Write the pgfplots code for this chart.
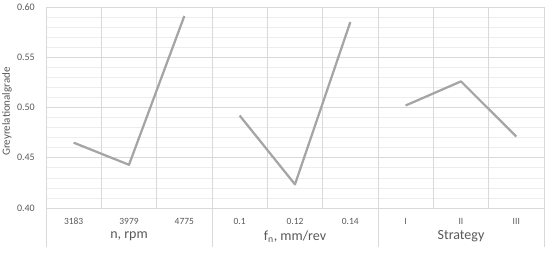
\documentclass[border=0pt]{standalone}
\usepackage{fontspec}
\setmainfont{Carlito}
\usepackage{pgfplots}
\pgfplotsset{compat=1.18}
\definecolor{gridc}{HTML}{D9D9D9}
\definecolor{minorgridc}{HTML}{EDEDED}
\definecolor{txt}{HTML}{595959}
\definecolor{ln}{HTML}{A5A5A5}
\begin{document}
\begin{tikzpicture}
\useasboundingbox (-46pt,-51pt) rectangle (504pt,208pt);
\begin{axis}[
  at={(0,0)}, anchor=south west,
  scale only axis, width=498pt, height=201pt,
  xmin=0.5, xmax=9.5, ymin=0.4, ymax=0.6,
  clip=false,
  axis line style={draw=none},
  major tick length=0pt, minor tick length=0pt,
  xtick={1,...,9},
  xticklabels={3183,3979,4775,0.1,0.12,0.14,I,II,III},
  extra x ticks={0.5,1.5,2.5,3.5,4.5,5.5,6.5,7.5,8.5,9.5},
  extra x tick labels={},
  extra x tick style={grid=major, major grid style={gridc, line width=0.75pt}},
  ytick={0.4,0.45,0.5,0.55,0.6},
  minor y tick num=4,
  ymajorgrids, yminorgrids,
  major grid style={gridc, line width=0.75pt},
  minor grid style={minorgridc, line width=0.6pt},
  /pgf/number format/assume math mode=true,
  yticklabel={\pgfmathprintnumber[fixed,fixed zerofill,precision=2]{\tick}},
  yticklabel style={anchor=east, inner sep=0pt, xshift=-11pt, text=txt, font=\fontsize{10}{12}\selectfont},
  xticklabel style={anchor=center, inner sep=0pt, yshift=-13pt, text=txt, font=\fontsize{9.5}{11}\selectfont},
  ylabel={Greyrelationalgrade},
  ylabel style={at={(axis description cs:-0.0783,0.48)}, anchor=center, text=txt, font=\fontsize{11}{13}\selectfont},
]
\addplot[ln, line width=2.25pt, line join=round] coordinates {(1,0.465) (2,0.443) (3,0.591)};
\addplot[ln, line width=2.25pt, line join=round] coordinates {(4,0.492) (5,0.4235) (6,0.585)};
\addplot[ln, line width=2.25pt, line join=round] coordinates {(7,0.502) (8,0.526) (9,0.471)};
\foreach \s in {0.5,3.5,6.5,9.5} {
  \edef\temp{\noexpand\draw[gridc, line width=0.75pt] (axis cs:\s,0.4) -- ++(0pt,-39pt);}
  \temp
}
\node[text=txt, font=\fontsize{14}{16}\selectfont] at (axis cs:2,0.4) [yshift=-28.5pt] {n, rpm};
\node[text=txt, font=\fontsize{14}{16}\selectfont] at (axis cs:5,0.4) [yshift=-28.5pt] {f\textsubscript{n}, mm/rev};
\node[text=txt, font=\fontsize{14}{16}\selectfont] at (axis cs:8,0.4) [yshift=-28.5pt] {Strategy};
\end{axis}
\end{tikzpicture}
\end{document}
